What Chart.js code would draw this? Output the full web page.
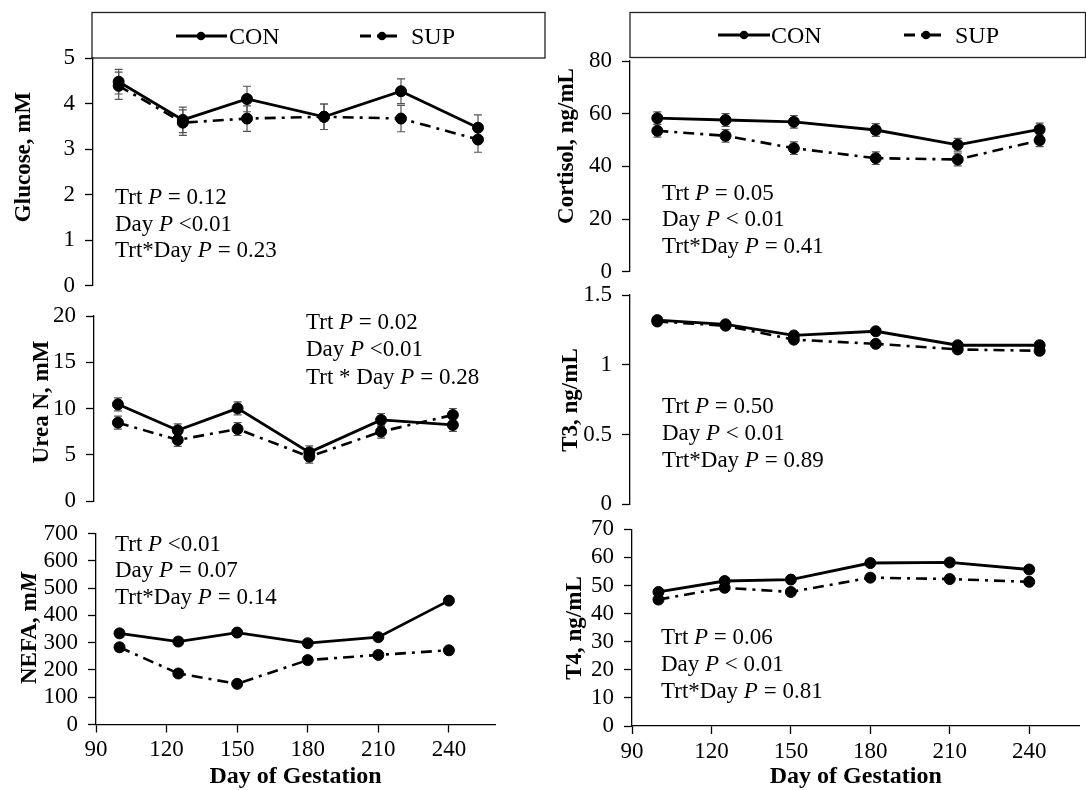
<!DOCTYPE html>
<html><head><meta charset="utf-8">
<script src="https://cdn.jsdelivr.net/npm/chart.js@4.4.1/dist/chart.umd.min.js"></script>
<style>
html,body{margin:0;padding:0;background:#fff;}
#wrap{position:relative;width:1086px;height:790px;overflow:hidden;background:#fff;}
#wrap canvas{position:absolute;}
</style></head><body>
<div id="wrap"></div>
<script>
// ---------- DATA ----------
const seriesNames = ['CON', 'SUP'];
const days = [100, 125, 150, 180, 210, 240];
const xTickStep = 30;

const glucoseCON = [4.48, 3.64, 4.10, 3.71, 4.27, 3.47];
const glucoseSUP = [4.39, 3.58, 3.67, 3.71, 3.67, 3.21];
const glucoseCONse = [0.27, 0.28, 0.28, 0.28, 0.27, 0.28];
const glucoseSUPse = [0.30, 0.28, 0.28, 0.28, 0.29, 0.28];

const cortisolCON = [58.3, 57.6, 56.9, 53.8, 48.2, 54.0];
const cortisolSUP = [53.5, 51.6, 46.9, 43.1, 42.6, 49.9];
const cortisolCONse = [2.4, 2.4, 2.4, 2.4, 2.4, 2.4];
const cortisolSUPse = [2.4, 2.4, 2.4, 2.4, 2.4, 2.4];

const ureaCON = [10.45, 7.64, 10.02, 5.26, 8.76, 8.22];
const ureaSUP = [8.47, 6.60, 7.78, 4.79, 7.50, 9.30];
const ureaCONse = [0.7, 0.7, 0.7, 0.7, 0.7, 0.7];
const ureaSUPse = [0.7, 0.7, 0.7, 0.7, 0.7, 0.7];

const t3CON = [1.32, 1.29, 1.21, 1.24, 1.14, 1.14];
const t3SUP = [1.31, 1.28, 1.18, 1.15, 1.11, 1.10];
const t3CONse = [0.02, 0.02, 0.02, 0.02, 0.02, 0.02];
const t3SUPse = [0.02, 0.02, 0.02, 0.02, 0.02, 0.02];

const nefaCON = [334, 304, 337, 298, 320, 454];
const nefaSUP = [283, 187, 149, 236, 255, 272];
const nefaCONse = [13, 13, 13, 13, 13, 13];
const nefaSUPse = [13, 13, 13, 13, 13, 13];

const t4CON = [47.7, 51.6, 52.1, 58.0, 58.2, 55.7];
const t4SUP = [45.0, 49.2, 47.7, 52.8, 52.3, 51.3];
const t4CONse = [1.2, 1.2, 1.2, 1.2, 1.2, 1.2];
const t4SUPse = [1.2, 1.2, 1.2, 1.2, 1.2, 1.2];

const statsGlucose  = ['Trt P = 0.12', 'Day P <0.01', 'Trt*Day P = 0.23'];
const statsCortisol = ['Trt P = 0.05', 'Day P < 0.01', 'Trt*Day P = 0.41'];
const statsUrea     = ['Trt P = 0.02', 'Day P <0.01', 'Trt * Day P = 0.28'];
const statsT3       = ['Trt P = 0.50', 'Day P < 0.01', 'Trt*Day P = 0.89'];
const statsNefa     = ['Trt P <0.01', 'Day P = 0.07', 'Trt*Day P = 0.14'];
const statsT4       = ['Trt P = 0.06', 'Day P < 0.01', 'Trt*Day P = 0.81'];

const xTitle = 'Day of Gestation';
// y titles: [text, italic?] segments
const titleGlucose  = [['Glucose, mM', false]];
const titleCortisol = [['Cortisol, ng/mL', false]];
const titleUrea     = [['Urea N, mM', false]];
const titleT3       = [['T3, ng/mL', false]];
const titleNefa     = [['NEFA, m', false], ['M', true]];
const titleT4       = [['T4, ng/mL', false]];

// ---------- STYLE ----------
const FONT = "'Liberation Serif', 'Times New Roman', serif";
Chart.defaults.font.family = FONT;
Chart.defaults.color = '#000';
const TICK_SIZE = 23, TEXT_SIZE = 23, TITLE_SIZE = 23, LEGEND_SIZE = 24, XTITLE_SIZE = 24;

const seriesStyle = [
  {borderColor: '#000', backgroundColor: '#000', borderWidth: 2.8, borderDash: [],
   pointRadius: 5.5, pointBackgroundColor: '#000', pointBorderColor: '#000', pointBorderWidth: 1},
  {borderColor: '#000', backgroundColor: '#000', borderWidth: 2.6, borderDash: [11, 6, 3, 6],
   pointRadius: 5.5, pointBackgroundColor: '#000', pointBorderColor: '#000', pointBorderWidth: 1}
];

// ---------- PLUGINS ----------
const errorBarPlugin = {
  id: 'errorBars',
  beforeDatasetsDraw(chart) {
    const ctx = chart.ctx, xs = chart.scales.x, ys = chart.scales.y;
    ctx.save();
    ctx.strokeStyle = '#555';
    ctx.lineWidth = 1.2;
    chart.data.datasets.forEach(ds => {
      if (!ds.errorBars) return;
      ds.data.forEach((pt, j) => {
        const e = ds.errorBars[j];
        const x = xs.getPixelForValue(pt.x);
        const y1 = ys.getPixelForValue(pt.y + e);
        const y2 = ys.getPixelForValue(pt.y - e);
        ctx.beginPath();
        ctx.moveTo(x, y1); ctx.lineTo(x, y2);
        ctx.moveTo(x - 4, y1); ctx.lineTo(x + 4, y1);
        ctx.moveTo(x - 4, y2); ctx.lineTo(x + 4, y2);
        ctx.stroke();
      });
    });
    ctx.restore();
  }
};

function drawSegments(ctx, segs, x, y, size, bold, align) {
  const fontOf = it => (it ? 'italic ' : '') + (bold ? 'bold ' : '') + size + 'px ' + FONT;
  let total = 0;
  segs.forEach(s => { ctx.font = fontOf(s[1]); total += ctx.measureText(s[0]).width; });
  let cx = align === 'center' ? x - total / 2 : x;
  ctx.textAlign = 'left';
  segs.forEach(s => { ctx.font = fontOf(s[1]); ctx.fillText(s[0], cx, y); cx += ctx.measureText(s[0]).width; });
}

function statSegments(line) {
  const m = line.match(/^(.*?)(P)((?:\s|<).*)$/);
  if (!m) return [[line, false]];
  return [[m[1], false], [m[2], true], [m[3], false]];
}

const panelTextPlugin = {
  id: 'panelText',
  afterDraw(chart, args, opts) {
    const ctx = chart.ctx;
    ctx.save();
    ctx.translate(-opts.origin.x, -opts.origin.y);
    ctx.fillStyle = '#000';
    if (opts.legend) {
      const L = opts.legend;
      ctx.strokeStyle = '#222';
      ctx.lineWidth = 1.3;
      ctx.strokeRect(L.box[0], L.box[1], L.box[2] - L.box[0], L.box[3] - L.box[1]);
      chart.data.datasets.forEach((ds, i) => {
        const it = L.items[i];
        ctx.strokeStyle = ds.borderColor;
        ctx.lineWidth = 3;
        ctx.setLineDash(ds.borderDash || []);
        ctx.beginPath();
        ctx.moveTo(it.from, L.lineY); ctx.lineTo(it.to, L.lineY);
        ctx.stroke();
        ctx.setLineDash([]);
        ctx.beginPath();
        ctx.arc(it.marker, L.lineY, 4.3, 0, Math.PI * 2);
        ctx.fillStyle = ds.pointBackgroundColor;
        ctx.fill();
        ctx.fillStyle = '#000';
        ctx.textBaseline = 'alphabetic';
        drawSegments(ctx, [[ds.label, false]], it.text, L.baseline, LEGEND_SIZE, false, 'left');
      });
    }
    if (opts.yTitle) {
      const T = opts.yTitle;
      ctx.save();
      ctx.translate(T.x, T.y);
      ctx.rotate(-Math.PI / 2);
      ctx.textBaseline = 'middle';
      drawSegments(ctx, T.segs, 0, 0, TITLE_SIZE, true, 'center');
      ctx.restore();
    }
    if (opts.stats) {
      const S = opts.stats;
      ctx.textBaseline = 'alphabetic';
      S.lines.forEach((ln, k) => {
        drawSegments(ctx, statSegments(ln), S.x, S.y0 + k * S.dy, TEXT_SIZE, false, 'left');
      });
    }
    ctx.restore();
  }
};

// ---------- PANELS ----------
const wrap = document.getElementById('wrap');
function zeroPad(s) { s.paddingTop = 0; s.paddingBottom = 0; s.paddingLeft = 0; s.paddingRight = 0; }
const plainNumber = v => String(Math.round(v * 1000) / 1000);

function makePanel(p) {
  const cv = document.createElement('canvas');
  cv.width = p.box.w; cv.height = p.box.h;
  cv.style.left = p.box.x + 'px'; cv.style.top = p.box.y + 'px';
  cv.style.width = p.box.w + 'px'; cv.style.height = p.box.h + 'px';
  wrap.appendChild(cv);
  const vals = [p.con, p.sup], errs = [p.conErr, p.supErr];
  const datasets = seriesNames.map((name, i) => Object.assign({
    label: name,
    data: days.map((d, j) => ({x: d, y: vals[i][j]})),
    errorBars: errs[i],
    fill: false, tension: 0, clip: false
  }, seriesStyle[i]));
  const tickFont = {family: FONT, size: TICK_SIZE};
  new Chart(cv, {
    type: 'line',
    data: {datasets},
    options: {
      responsive: false, animation: false, devicePixelRatio: 1,
      layout: {padding: p.pad},
      plugins: {
        legend: {display: false}, tooltip: {enabled: false},
        panelText: {origin: {x: p.box.x, y: p.box.y}, legend: p.legend, yTitle: p.yTitle, stats: p.stats}
      },
      scales: {
        x: {
          type: 'linear', min: p.xMin, max: p.xMax, display: p.showX,
          afterFit: s => { s.height = p.xH || 0; zeroPad(s); },
          ticks: {stepSize: xTickStep, includeBounds: false, font: tickFont, color: '#000', padding: 4, maxRotation: 0, autoSkip: false, callback: plainNumber},
          grid: {drawOnChartArea: false, drawTicks: true, tickLength: 8, tickColor: '#000', tickWidth: 1.3},
          border: {display: true, color: '#000', width: 1.3},
          title: {display: true, text: xTitle, color: '#000', padding: 0, font: {family: FONT, size: XTITLE_SIZE, weight: 'bold'}}
        },
        y: {
          type: 'linear', min: p.yMin, max: p.yMax,
          afterFit: s => { s.width = p.yW; zeroPad(s); },
          ticks: {stepSize: p.yStep, font: tickFont, color: '#000', padding: 10, autoSkip: false, callback: plainNumber},
          grid: {drawOnChartArea: false, drawTicks: true, tickLength: 8, tickColor: '#000', tickWidth: 1.3},
          border: {display: true, color: '#000', width: 1.3}
        }
      }
    },
    plugins: [errorBarPlugin, panelTextPlugin]
  });
}

// Glucose
makePanel({
  box: {x: 0, y: 0, w: 560, h: 300}, pad: {left: 0, right: 15, top: 58, bottom: 14.3},
  yW: 93, showX: false, xMin: 90, xMax: 266.1,
  yMin: 0, yMax: 5, yStep: 1,
  con: glucoseCON, sup: glucoseSUP, conErr: glucoseCONse, supErr: glucoseSUPse,
  yTitle: {x: 24, y: 157, segs: titleGlucose},
  stats: {x: 115, y0: 204, dy: 26.7, lines: statsGlucose},
  legend: {box: [92, 12.5, 545, 58], lineY: 36, baseline: 44,
    items: [{from: 176, to: 227, marker: 201, text: 229}, {from: 360, to: 397, marker: 382, text: 411}]}
});
// Urea
makePanel({
  box: {x: 0, y: 290, w: 560, h: 230}, pad: {left: 0, right: 65, top: 26, bottom: 19},
  yW: 94, showX: false, xMin: 90, xMax: 257.6,
  yMin: 0, yMax: 20, yStep: 5,
  con: ureaCON, sup: ureaSUP, conErr: ureaCONse, supErr: ureaSUPse,
  yTitle: {x: 42, y: 402, segs: titleUrea},
  stats: {x: 306, y0: 328.5, dy: 27.5, lines: statsUrea}
});
// NEFA
makePanel({
  box: {x: 0, y: 505, w: 560, h: 290}, pad: {left: 0, right: 65, top: 28.5, bottom: 3.6},
  yW: 96, showX: true, xH: 66.9, xMin: 90, xMax: 259.6,
  yMin: 0, yMax: 700, yStep: 100,
  con: nefaCON, sup: nefaSUP, conErr: nefaCONse, supErr: nefaSUPse,
  yTitle: {x: 30, y: 628, segs: titleNefa},
  stats: {x: 115, y0: 550.5, dy: 26.7, lines: statsNefa}
});
// Cortisol
makePanel({
  box: {x: 543, y: 0, w: 543, h: 290}, pad: {left: 0, right: 0, top: 61, bottom: 18.3},
  yW: 87, showX: false, xMin: 90, xMax: 254.6,
  yMin: 0, yMax: 80, yStep: 20,
  con: cortisolCON, sup: cortisolSUP, conErr: cortisolCONse, supErr: cortisolSUPse,
  yTitle: {x: 567, y: 146, segs: titleCortisol},
  stats: {x: 662, y0: 199.5, dy: 26.7, lines: statsCortisol},
  legend: {box: [630, 12.5, 1085.5, 57.5], lineY: 35, baseline: 43,
    items: [{from: 718, to: 770, marker: 744, text: 771}, {from: 904, to: 941, marker: 926, text: 955}]}
});
// T3
makePanel({
  box: {x: 543, y: 280, w: 543, h: 240}, pad: {left: 0, right: 0, top: 15, bottom: 15.7},
  yW: 87, showX: false, xMin: 90, xMax: 254.6,
  yMin: 0, yMax: 1.5, yStep: 0.5,
  con: t3CON, sup: t3SUP, conErr: t3CONse, supErr: t3SUPse,
  yTitle: {x: 571, y: 400, segs: titleT3},
  stats: {x: 662, y0: 413.3, dy: 26.7, lines: statsT3}
});
// T4
makePanel({
  box: {x: 543, y: 505, w: 543, h: 290}, pad: {left: 0, right: 0, top: 24.3, bottom: 3.6},
  yW: 89, showX: true, xH: 65.4, xMin: 90, xMax: 259,
  yMin: 0, yMax: 70, yStep: 10,
  con: t4CON, sup: t4SUP, conErr: t4CONse, supErr: t4SUPse,
  yTitle: {x: 575, y: 628, segs: titleT4},
  stats: {x: 661, y0: 644, dy: 27, lines: statsT4}
});
</script>
</body></html>
